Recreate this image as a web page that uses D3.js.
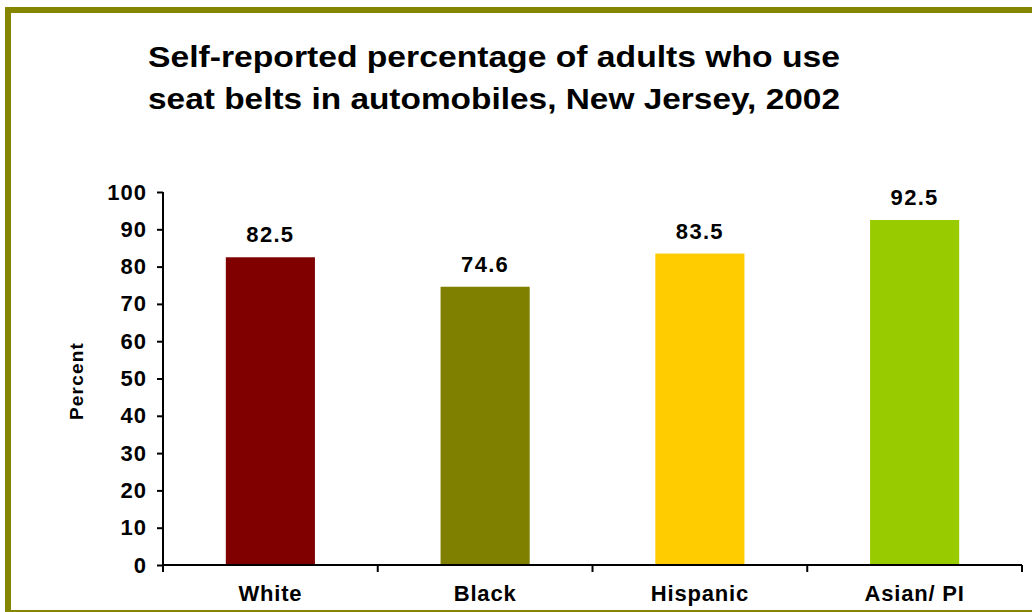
<!DOCTYPE html>
<html><head><meta charset="utf-8">
<script src="https://cdn.jsdelivr.net/npm/d3@7"></script>
<style>
html,body{margin:0;padding:0;background:#fff;}
svg{display:block;font-family:"Liberation Sans",Arial,sans-serif;}
</style></head>
<body>
<svg id="chart" width="1032" height="612"></svg>
<script>
const categories = ["White", "Black", "Hispanic", "Asian/ PI"];
const values = [82.5, 74.6, 83.5, 92.5];
const colors = ["#800000", "#808000", "#FFCC00", "#99CC00"];
const yTicks = [0, 10, 20, 30, 40, 50, 60, 70, 80, 90, 100];
const titleLines = ["Self-reported percentage of adults who use", "seat belts in automobiles, New Jersey, 2002"];
const yLabel = "Percent";

const svg = d3.select("#chart");
const olive = "#858500";

// frame
svg.append("line").attr("x1", 5).attr("x2", 1032).attr("y1", 10).attr("y2", 10)
  .attr("stroke", olive).attr("stroke-width", 6);
svg.append("line").attr("x1", 8).attr("x2", 8).attr("y1", 7).attr("y2", 612)
  .attr("stroke", olive).attr("stroke-width", 6);
svg.append("line").attr("x1", 5).attr("x2", 1032).attr("y1", 611).attr("y2", 611)
  .attr("stroke", olive).attr("stroke-width", 2);

const x = d3.scaleBand().domain(categories).range([163, 1022]).paddingInner(0.585).paddingOuter(0.2925);
const xc = d3.scaleBand().domain(categories).range([163, 1022]);
const y = d3.scaleLinear().domain([0, 100]).range([565, 192]);

// title
svg.selectAll("text.title").data(titleLines).enter().append("text")
  .attr("class", "title")
  .attr("x", 494).attr("y", (d, i) => 67 + i * 42)
  .attr("text-anchor", "middle")
  .attr("font-size", 30).attr("font-weight", "bold")
  .attr("textLength", 692).attr("lengthAdjust", "spacingAndGlyphs")
  .attr("fill", "#000")
  .text(d => d);

// bars
svg.selectAll("rect.bar").data(values).enter().append("rect")
  .attr("class", "bar")
  .attr("x", (d, i) => x(categories[i]))
  .attr("width", x.bandwidth())
  .attr("y", d => y(d))
  .attr("height", d => y(0) - y(d))
  .attr("fill", (d, i) => colors[i]);

// value labels
svg.selectAll("text.val").data(values).enter().append("text")
  .attr("class", "val")
  .attr("x", (d, i) => x(categories[i]) + x.bandwidth() / 2)
  .attr("y", d => y(d) - 15)
  .attr("text-anchor", "middle")
  .attr("font-size", 22).attr("font-weight", "bold").attr("letter-spacing", 1.3)
  .text(d => d.toFixed(1));

// y axis
const yAxis = svg.append("g").attr("transform", "translate(163,0)")
  .call(d3.axisLeft(y).tickValues(yTicks).tickSize(6).tickPadding(10).tickFormat(d3.format("d")));
yAxis.select(".domain").attr("stroke", "#000").attr("stroke-width", 2).attr("d", "M0,192V566");
yAxis.selectAll(".tick line").attr("stroke", "#000").attr("stroke-width", 2);
yAxis.selectAll(".tick text").attr("font-size", 22).attr("font-weight", "bold")
  .attr("letter-spacing", 1).attr("fill", "#000")
  .attr("font-family", "Liberation Sans, Arial, sans-serif");

// x axis
const xAxis = svg.append("g").attr("transform", "translate(0,565)")
  .call(d3.axisBottom(xc).tickSize(0).tickPadding(20));
xAxis.select(".domain").attr("stroke", "#000").attr("stroke-width", 2).attr("d", "M163,0H1022");
xAxis.selectAll(".tick text").attr("font-size", 22).attr("font-weight", "bold")
  .attr("letter-spacing", 0.8).attr("fill", "#000")
  .attr("font-family", "Liberation Sans, Arial, sans-serif");
// category boundary ticks
const bounds = categories.map(c => xc(c)).concat([xc(categories[categories.length - 1]) + xc.bandwidth()]);
xAxis.selectAll("line.bnd").data(bounds).enter().append("line")
  .attr("class", "bnd")
  .attr("x1", d => d).attr("x2", d => d).attr("y1", 0).attr("y2", 7)
  .attr("stroke", "#000").attr("stroke-width", 2);

// y label
svg.append("text")
  .attr("transform", "translate(83,381) rotate(-90)")
  .attr("text-anchor", "middle")
  .attr("font-size", 19).attr("font-weight", "bold").attr("letter-spacing", 1.2)
  .text(yLabel);
</script>
</body></html>
